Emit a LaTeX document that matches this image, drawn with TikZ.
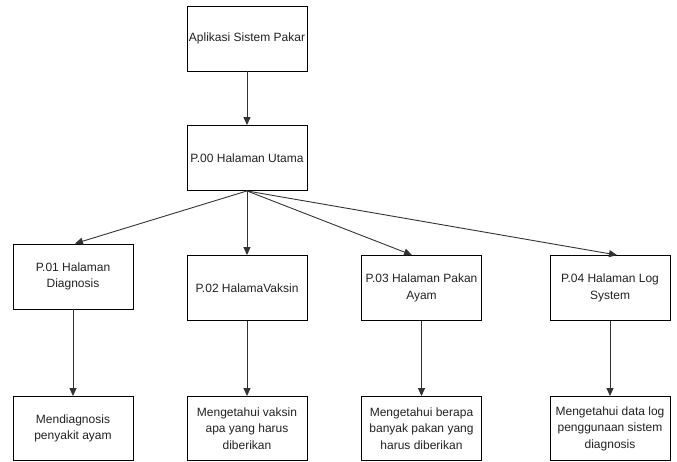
\documentclass[tikz,border=0pt]{standalone}
\usepackage{fontspec}
\setmainfont{Liberation Sans}
\usetikzlibrary{arrows.meta}
\definecolor{linegray}{HTML}{333333}
\definecolor{textgray}{HTML}{222222}
\tikzset{
  page/.style={draw=black,line width=0.9pt,fill=white,minimum width=120pt,minimum height=65pt,
    align=center,inner sep=2pt,text=textgray,font=\fontsize{12}{16.5}\selectfont},
  link/.style={draw=linegray,line width=0.9pt,-{Triangle[width=7pt,length=8pt]}}
}

\begin{document}
\begin{tikzpicture}[x=1pt,y=-1pt]
\useasboundingbox (0,0) rectangle (677,462);
\node[page] (app) at (247,38.5) {Aplikasi Sistem Pakar};
\node[page] (p00) at (247,158) {P.00 Halaman Utama};
\node[page] (p01) at (73,276.5) {P.01 Halaman\\Diagnosis};
\node[page] (p02) at (247,288) {P.02 HalamaVaksin};
\node[page] (p03) at (421.5,288) {P.03 Halaman Pakan\\Ayam};
\node[page] (p04) at (610,288) {P.04 Halaman Log\\System};
\node[page,minimum height=64pt] (d01) at (73,428.5) {Mendiagnosis\\penyakit ayam};
\node[page,minimum height=64pt] (d02) at (247,428.5) {Mengetahui vaksin\\apa yang harus\\diberikan};
\node[page,minimum height=64pt] (d03) at (421.5,428.5) {Mengetahui berapa\\banyak pakan yang\\harus diberikan};
\node[page,minimum height=64pt] (d04) at (610,428.5) {Mengetahui data log\\penggunaan sistem\\diagnosis};
\draw[link] (app) -- (p00);
\draw[link] (p00.south) -- ([xshift=2pt]p01.north);
\draw[link] (p00.south) -- (p02.north);
\draw[link] (p00.south) -- ([xshift=-9.5pt]p03.north);
\draw[link] (p00.south) -- ([xshift=7pt]p04.north);
\foreach \n in {1,2,3,4}
  \draw[link] (p0\n) -- (d0\n);
\end{tikzpicture}
\end{document}
